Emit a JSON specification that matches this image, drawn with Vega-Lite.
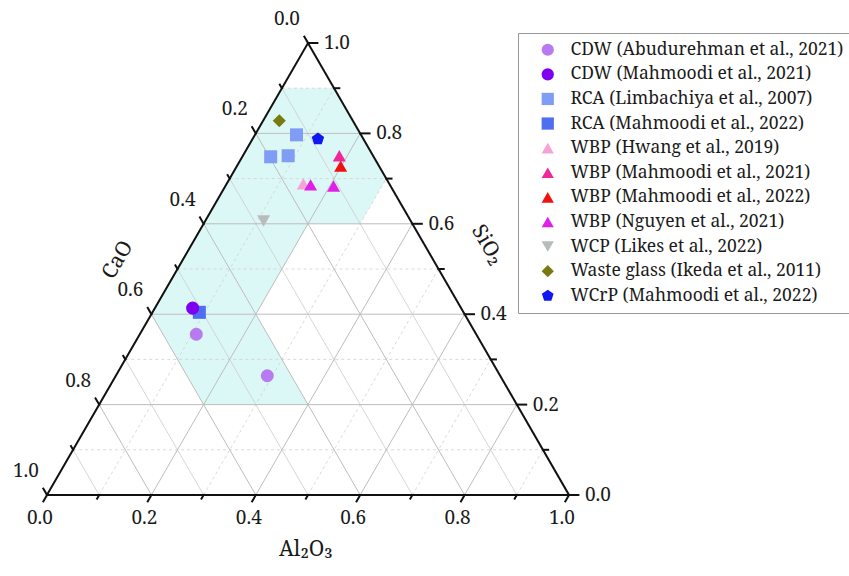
{
  "$schema": "https://vega.github.io/schema/vega-lite/v6.json",
  "width": 522,
  "height": 452,
  "autosize": {"type": "none"},
  "padding": {"left": 47, "top": 43, "right": 280, "bottom": 81},
  "background": "white",
  "config": {
    "view": {"stroke": null},
    "legend": {
      "labelFont": "Noto Serif",
      "labelFontSize": 17.5,
      "labelColor": "#1a1a1a",
      "labelLimit": 400,
      "strokeColor": "#9a9a9a",
      "strokeWidth": 1,
      "padding": 8,
      "rowPadding": 5.6,
      "symbolOffset": 13,
      "labelOffset": 14,
      "symbolSize": 150,
      "symbolStrokeWidth": 0
    }
  },
  "datasets": {
    "poly": [
      {"o": 1, "x": 0.45, "y": 0.7794},
      {"o": 2, "x": 0.55, "y": 0.7794},
      {"o": 3, "x": 0.65, "y": 0.6062},
      {"o": 4, "x": 0.6, "y": 0.5196},
      {"o": 5, "x": 0.5, "y": 0.5196},
      {"o": 6, "x": 0.4, "y": 0.3464},
      {"o": 7, "x": 0.5, "y": 0.1732},
      {"o": 8, "x": 0.3, "y": 0.1732},
      {"o": 9, "x": 0.2, "y": 0.3464}
    ],
    "grid": [
      {"kind": "minor", "x": 0.05, "y": 0.0866, "x2": 0.95, "y2": 0.0866},
      {"kind": "major", "x": 0.1, "y": 0.1732, "x2": 0.9, "y2": 0.1732},
      {"kind": "minor", "x": 0.15, "y": 0.2598, "x2": 0.85, "y2": 0.2598},
      {"kind": "major", "x": 0.2, "y": 0.3464, "x2": 0.8, "y2": 0.3464},
      {"kind": "minor", "x": 0.25, "y": 0.433, "x2": 0.75, "y2": 0.433},
      {"kind": "major", "x": 0.3, "y": 0.5196, "x2": 0.7, "y2": 0.5196},
      {"kind": "minor", "x": 0.35, "y": 0.6062, "x2": 0.65, "y2": 0.6062},
      {"kind": "major", "x": 0.4, "y": 0.6928, "x2": 0.6, "y2": 0.6928},
      {"kind": "minor", "x": 0.45, "y": 0.7794, "x2": 0.55, "y2": 0.7794},
      {"kind": "minor", "x": 0.1, "y": 0, "x2": 0.55, "y2": 0.7794},
      {"kind": "major", "x": 0.2, "y": 0, "x2": 0.6, "y2": 0.6928},
      {"kind": "minor", "x": 0.3, "y": 0, "x2": 0.65, "y2": 0.6062},
      {"kind": "major", "x": 0.4, "y": 0, "x2": 0.7, "y2": 0.5196},
      {"kind": "minor", "x": 0.5, "y": 0, "x2": 0.75, "y2": 0.433},
      {"kind": "major", "x": 0.6, "y": 0, "x2": 0.8, "y2": 0.3464},
      {"kind": "minor", "x": 0.7, "y": 0, "x2": 0.85, "y2": 0.2598},
      {"kind": "major", "x": 0.8, "y": 0, "x2": 0.9, "y2": 0.1732},
      {"kind": "minor", "x": 0.9, "y": 0, "x2": 0.95, "y2": 0.0866},
      {"kind": "caminor", "x": 0.9, "y": 0, "x2": 0.45, "y2": 0.7794},
      {"kind": "major", "x": 0.8, "y": 0, "x2": 0.4, "y2": 0.6928},
      {"kind": "caminor", "x": 0.7, "y": 0, "x2": 0.35, "y2": 0.6062},
      {"kind": "major", "x": 0.6, "y": 0, "x2": 0.3, "y2": 0.5196},
      {"kind": "caminor", "x": 0.5, "y": 0, "x2": 0.25, "y2": 0.433},
      {"kind": "major", "x": 0.4, "y": 0, "x2": 0.2, "y2": 0.3464},
      {"kind": "caminor", "x": 0.3, "y": 0, "x2": 0.15, "y2": 0.2598},
      {"kind": "major", "x": 0.2, "y": 0, "x2": 0.1, "y2": 0.1732},
      {"kind": "caminor", "x": 0.1, "y": 0, "x2": 0.05, "y2": 0.0866}
    ],
    "edges": [
      {"x": 0, "y": 0, "x2": 1, "y2": 0},
      {"x": 1, "y": 0, "x2": 0.5, "y2": 0.866},
      {"x": 0.5, "y": 0.866, "x2": 0, "y2": 0},
      {"x": 0, "y": 0, "x2": -0.007, "y2": -0.0121},
      {"x": 0.1, "y": 0, "x2": 0.096, "y2": -0.0069},
      {"x": 0.2, "y": 0, "x2": 0.193, "y2": -0.0121},
      {"x": 0.3, "y": 0, "x2": 0.296, "y2": -0.0069},
      {"x": 0.4, "y": 0, "x2": 0.393, "y2": -0.0121},
      {"x": 0.5, "y": 0, "x2": 0.496, "y2": -0.0069},
      {"x": 0.6, "y": 0, "x2": 0.593, "y2": -0.0121},
      {"x": 0.7, "y": 0, "x2": 0.696, "y2": -0.0069},
      {"x": 0.8, "y": 0, "x2": 0.793, "y2": -0.0121},
      {"x": 0.9, "y": 0, "x2": 0.896, "y2": -0.0069},
      {"x": 1, "y": 0, "x2": 0.993, "y2": -0.0121},
      {"x": 1, "y": 0, "x2": 1.018, "y2": 0},
      {"x": 0.95, "y": 0.0866, "x2": 0.96, "y2": 0.0866},
      {"x": 0.9, "y": 0.1732, "x2": 0.918, "y2": 0.1732},
      {"x": 0.85, "y": 0.2598, "x2": 0.86, "y2": 0.2598},
      {"x": 0.8, "y": 0.3464, "x2": 0.818, "y2": 0.3464},
      {"x": 0.75, "y": 0.433, "x2": 0.76, "y2": 0.433},
      {"x": 0.7, "y": 0.5196, "x2": 0.718, "y2": 0.5196},
      {"x": 0.65, "y": 0.6062, "x2": 0.66, "y2": 0.6062},
      {"x": 0.6, "y": 0.6928, "x2": 0.618, "y2": 0.6928},
      {"x": 0.55, "y": 0.7794, "x2": 0.56, "y2": 0.7794},
      {"x": 0.5, "y": 0.866, "x2": 0.518, "y2": 0.866},
      {"x": 0.5, "y": 0.866, "x2": 0.493, "y2": 0.8781},
      {"x": 0.45, "y": 0.7794, "x2": 0.446, "y2": 0.7863},
      {"x": 0.4, "y": 0.6928, "x2": 0.393, "y2": 0.7049},
      {"x": 0.35, "y": 0.6062, "x2": 0.346, "y2": 0.6131},
      {"x": 0.3, "y": 0.5196, "x2": 0.293, "y2": 0.5317},
      {"x": 0.25, "y": 0.433, "x2": 0.246, "y2": 0.4399},
      {"x": 0.2, "y": 0.3464, "x2": 0.193, "y2": 0.3585},
      {"x": 0.15, "y": 0.2598, "x2": 0.146, "y2": 0.2667},
      {"x": 0.1, "y": 0.1732, "x2": 0.093, "y2": 0.1853},
      {"x": 0.05, "y": 0.0866, "x2": 0.046, "y2": 0.0935},
      {"x": 0, "y": 0, "x2": -0.007, "y2": 0.0121}
    ],
    "labels": [
      {"axis": "bottom", "x": 0, "y": 0, "label": "0.0"},
      {"axis": "bottom", "x": 0.2, "y": 0, "label": "0.2"},
      {"axis": "bottom", "x": 0.4, "y": 0, "label": "0.4"},
      {"axis": "bottom", "x": 0.6, "y": 0, "label": "0.6"},
      {"axis": "bottom", "x": 0.8, "y": 0, "label": "0.8"},
      {"axis": "bottom", "x": 1, "y": 0, "label": "1.0"},
      {"axis": "right", "x": 1, "y": 0, "label": "0.0"},
      {"axis": "right", "x": 0.9, "y": 0.1732, "label": "0.2"},
      {"axis": "right", "x": 0.8, "y": 0.3464, "label": "0.4"},
      {"axis": "right", "x": 0.7, "y": 0.5196, "label": "0.6"},
      {"axis": "right", "x": 0.6, "y": 0.6928, "label": "0.8"},
      {"axis": "right", "x": 0.5, "y": 0.866, "label": "1.0"},
      {"axis": "left", "x": 0.5, "y": 0.866, "label": "0.0"},
      {"axis": "left", "x": 0.4, "y": 0.6928, "label": "0.2"},
      {"axis": "left", "x": 0.3, "y": 0.5196, "label": "0.4"},
      {"axis": "left", "x": 0.2, "y": 0.3464, "label": "0.6"},
      {"axis": "left", "x": 0.1, "y": 0.1732, "label": "0.8"},
      {"axis": "left", "x": 0, "y": 0, "label": "1.0"}
    ],
    "points": [
      {"source": "Waste glass (Ikeda et al., 2011)", "x": 0.445, "y": 0.717},
      {"source": "RCA (Limbachiya et al., 2007)", "x": 0.478, "y": 0.69},
      {"source": "WCrP (Mahmoodi et al., 2022)", "x": 0.519, "y": 0.682},
      {"source": "RCA (Limbachiya et al., 2007)", "x": 0.4285, "y": 0.648},
      {"source": "RCA (Limbachiya et al., 2007)", "x": 0.462, "y": 0.65},
      {"source": "WBP (Mahmoodi et al., 2021)", "x": 0.56, "y": 0.65},
      {"source": "WBP (Mahmoodi et al., 2022)", "x": 0.5626, "y": 0.63},
      {"source": "WBP  (Hwang et al., 2019)", "x": 0.491, "y": 0.596},
      {"source": "WBP (Nguyen et al., 2021)", "x": 0.505, "y": 0.594},
      {"source": "WBP (Nguyen et al., 2021)", "x": 0.549, "y": 0.592},
      {"source": "WCP (Likes et al., 2022)", "x": 0.415, "y": 0.525},
      {"source": "RCA (Mahmoodi et al., 2022)", "x": 0.2918, "y": 0.35},
      {"source": "CDW (Mahmoodi et al., 2021)", "x": 0.279, "y": 0.358},
      {"source": "CDW (Abudurehman et al., 2021)", "x": 0.286, "y": 0.308},
      {"source": "CDW (Abudurehman et al., 2021)", "x": 0.422, "y": 0.2285}
    ]
  },
  "encoding": {
    "x": {"type": "quantitative", "scale": {"domain": [0, 1], "nice": false, "zero": false}, "axis": null},
    "y": {"type": "quantitative", "scale": {"domain": [0, 0.866], "nice": false, "zero": false}, "axis": null}
  },
  "layer": [
    {
      "data": {"name": "poly"},
      "mark": {"type": "line", "fill": "#dcf8f6", "stroke": "#dcf8f6", "strokeWidth": 0, "interpolate": "linear-closed"},
      "encoding": {
        "x": {"field": "x", "type": "quantitative"},
        "y": {"field": "y", "type": "quantitative"},
        "order": {"field": "o", "type": "quantitative"}
      }
    },
    {
      "data": {"name": "grid"},
      "transform": [{"filter": "datum.kind == 'caminor'"}],
      "mark": {"type": "rule", "stroke": "#cccccc", "strokeWidth": 0.8},
      "encoding": {
        "x": {"field": "x", "type": "quantitative"},
        "y": {"field": "y", "type": "quantitative"},
        "x2": {"field": "x2"},
        "y2": {"field": "y2"}
      }
    },
    {
      "data": {"name": "grid"},
      "transform": [{"filter": "datum.kind == 'minor'"}],
      "mark": {"type": "rule", "stroke": "#cfcfcf", "strokeWidth": 0.8, "strokeDash": [3, 3]},
      "encoding": {
        "x": {"field": "x", "type": "quantitative"},
        "y": {"field": "y", "type": "quantitative"},
        "x2": {"field": "x2"},
        "y2": {"field": "y2"}
      }
    },
    {
      "data": {"name": "grid"},
      "transform": [{"filter": "datum.kind == 'major'"}],
      "mark": {"type": "rule", "stroke": "#bdbdbd", "strokeWidth": 1},
      "encoding": {
        "x": {"field": "x", "type": "quantitative"},
        "y": {"field": "y", "type": "quantitative"},
        "x2": {"field": "x2"},
        "y2": {"field": "y2"}
      }
    },
    {
      "data": {"name": "edges"},
      "mark": {"type": "rule", "stroke": "#111111", "strokeWidth": 2, "strokeCap": "square"},
      "encoding": {
        "x": {"field": "x", "type": "quantitative"},
        "y": {"field": "y", "type": "quantitative"},
        "x2": {"field": "x2"},
        "y2": {"field": "y2"}
      }
    },
    {
      "data": {"name": "labels"},
      "transform": [{"filter": "datum.axis == 'bottom'"}],
      "mark": {"type": "text", "font": "Noto Serif", "fontSize": 19, "align": "center", "baseline": "middle", "dx": -7, "dy": 23, "color": "#1a1a1a"},
      "encoding": {
        "x": {"field": "x", "type": "quantitative"},
        "y": {"field": "y", "type": "quantitative"},
        "text": {"field": "label"}
      }
    },
    {
      "data": {"name": "labels"},
      "transform": [{"filter": "datum.axis == 'right'"}],
      "mark": {"type": "text", "font": "Noto Serif", "fontSize": 19, "align": "left", "baseline": "middle", "dx": 16, "dy": 0, "color": "#1a1a1a"},
      "encoding": {
        "x": {"field": "x", "type": "quantitative"},
        "y": {"field": "y", "type": "quantitative"},
        "text": {"field": "label"}
      }
    },
    {
      "data": {"name": "labels"},
      "transform": [{"filter": "datum.axis == 'left'"}],
      "mark": {"type": "text", "font": "Noto Serif", "fontSize": 19, "align": "center", "baseline": "middle", "dx": -21, "dy": -24, "color": "#1a1a1a"},
      "encoding": {
        "x": {"field": "x", "type": "quantitative"},
        "y": {"field": "y", "type": "quantitative"},
        "text": {"field": "label"}
      }
    },
    {
      "data": {"values": [{"label": "CaO", "x": 0.136, "y": 0.45}]},
      "mark": {"type": "text", "font": "Noto Serif", "fontSize": 21, "align": "center", "baseline": "middle", "angle": 300, "color": "#1a1a1a"},
      "encoding": {
        "x": {"field": "x", "type": "quantitative"},
        "y": {"field": "y", "type": "quantitative"},
        "text": {"field": "label"}
      }
    },
    {
      "data": {"values": [{"label": "SiO₂", "x": 0.843, "y": 0.479}]},
      "mark": {"type": "text", "font": "Noto Serif", "fontSize": 21, "align": "center", "baseline": "middle", "angle": 60, "color": "#1a1a1a"},
      "encoding": {
        "x": {"field": "x", "type": "quantitative"},
        "y": {"field": "y", "type": "quantitative"},
        "text": {"field": "label"}
      }
    },
    {
      "data": {"values": [{"label": "Al₂O₃", "x": 0.496, "y": -0.1054}]},
      "mark": {"type": "text", "font": "Noto Serif", "fontSize": 21, "align": "center", "baseline": "middle", "color": "#1a1a1a"},
      "encoding": {
        "x": {"field": "x", "type": "quantitative"},
        "y": {"field": "y", "type": "quantitative"},
        "text": {"field": "label"}
      }
    },
    {
      "data": {"name": "points"},
      "mark": {"type": "point", "filled": true, "opacity": 1, "size": 170, "strokeWidth": 0},
      "encoding": {
        "x": {"field": "x", "type": "quantitative"},
        "y": {"field": "y", "type": "quantitative"},
        "color": {
          "field": "source",
          "type": "nominal",
          "title": null,
          "sort": null,
          "scale": {
            "domain": ["CDW (Abudurehman et al., 2021)", "CDW (Mahmoodi et al., 2021)", "RCA (Limbachiya et al., 2007)", "RCA (Mahmoodi et al., 2022)", "WBP  (Hwang et al., 2019)", "WBP (Mahmoodi et al., 2021)", "WBP (Mahmoodi et al., 2022)", "WBP (Nguyen et al., 2021)", "WCP (Likes et al., 2022)", "Waste glass (Ikeda et al., 2011)", "WCrP (Mahmoodi et al., 2022)"],
            "range": ["#b77af0", "#7f00f0", "#809df5", "#4f6ff0", "#f5a3d6", "#f0269c", "#f01010", "#e020e8", "#b8bcbc", "#7a7a12", "#0f18f0"]
          },
          "legend": {"orient": "none", "legendX": 471, "legendY": -10, "title": null}
        },
        "shape": {
          "field": "source",
          "type": "nominal",
          "title": null,
          "sort": null,
          "scale": {
            "domain": ["CDW (Abudurehman et al., 2021)", "CDW (Mahmoodi et al., 2021)", "RCA (Limbachiya et al., 2007)", "RCA (Mahmoodi et al., 2022)", "WBP  (Hwang et al., 2019)", "WBP (Mahmoodi et al., 2021)", "WBP (Mahmoodi et al., 2022)", "WBP (Nguyen et al., 2021)", "WCP (Likes et al., 2022)", "Waste glass (Ikeda et al., 2011)", "WCrP (Mahmoodi et al., 2022)"],
            "range": ["circle", "circle", "square", "square", "triangle-up", "triangle-up", "triangle-up", "triangle-up", "triangle-down", "diamond", "M0,-1L0.951,-0.309L0.588,0.809L-0.588,0.809L-0.951,-0.309Z"]
          },
          "legend": {"orient": "none", "legendX": 471, "legendY": -10, "title": null}
        }
      }
    }
  ]
}
